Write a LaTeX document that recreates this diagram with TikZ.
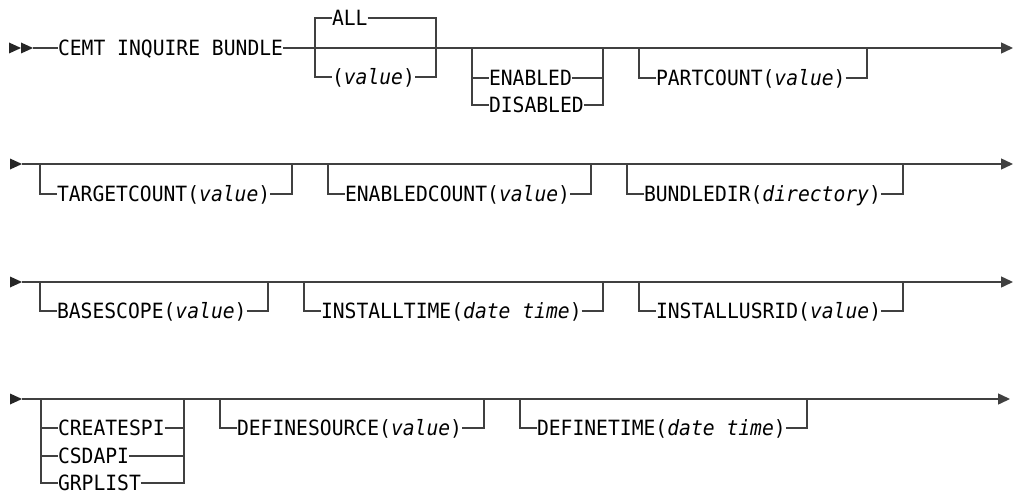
\documentclass[tikz,border=0pt]{standalone}
\usepackage{fontspec}
\setmonofont[FakeStretch=0.937]{DejaVu Sans Mono}
\usetikzlibrary{arrows.meta}
\tikzset{
  rail/.style={draw=black!75, line width=1.4pt, line join=miter, line cap=butt},
  lbl/.style={anchor=west, inner sep=0pt, outer sep=0pt, text height=15.3pt, text depth=0pt,
              font=\ttfamily\fontsize{21}{25}\selectfont, text=black},
  endarrow/.style={-{Triangle[length=12pt,width=11pt]}},
  headmark/.style={fill=black!85}
}
\newcommand\RailOpt[6]{%
  \coordinate (#1L) at (#2,#4);
  \coordinate (#1R) at (#3,#4);
  \node[lbl] (#1) at (#2+17,#5) {#6};
  \draw[rail] (#1L) |- (#1.west);
  \draw[rail] (#1.east) -| (#1R);
}
\newcommand\RowStart[2]{% name, y
  \coordinate (#1) at (22,#2);
  \fill[headmark] (10,#2-5.5) -- (22,#2) -- (10,#2+5.5) -- cycle;
}
\begin{document}
\begin{tikzpicture}[x=1pt,y=-1pt]
\useasboundingbox (0,0) rectangle (1016,495);

% ---------------- Row 1 ----------------
\coordinate (r1s) at (33,48);
\fill[headmark] (9,42.5) -- (21,48) -- (9,53.5) -- cycle;
\fill[headmark] (21,42.5) -- (33,48) -- (21,53.5) -- cycle;
\node[lbl] (cemt) at (58,48) {CEMT INQUIRE BUNDLE};
\coordinate (r1e) at (1013,48);
\draw[rail] (r1s) -- (cemt.west);
\draw[rail,endarrow] (cemt.east) -- (r1e);

\coordinate (allL) at (315,48);
\coordinate (allR) at (436,48);
\node[lbl] (all) at (332,18) {ALL};
\node[lbl] (val) at (332,77) {(\textit{value})};
\draw[rail] (all.west) -| (allL) |- (val.west);
\draw[rail] (all.east) -| (allR) |- (val.east);

\coordinate (enL) at (472,48);
\coordinate (enR) at (603,48);
\node[lbl] (en) at (489,78) {ENABLED};
\node[lbl] (dis) at (489,105) {DISABLED};
\draw[rail] (enL) |- (en.west);
\draw[rail] (enL) |- (dis.west);
\draw[rail] (en.east) -| (enR);
\draw[rail] (dis.east) -| (enR);

\RailOpt{part}{639}{867}{48}{78}{PARTCOUNT(\textit{value})}

% ---------------- Row 2 ----------------
\RowStart{r2s}{164}
\coordinate (r2e) at (1013,164);
\draw[rail,endarrow] (r2s) -- (r2e);
\RailOpt{tgt}{40}{292}{164}{194}{TARGETCOUNT(\textit{value})}
\RailOpt{enc}{328}{591}{164}{194}{ENABLEDCOUNT(\textit{value})}
\RailOpt{bdir}{627}{903}{164}{194}{BUNDLEDIR(\textit{directory})}

% ---------------- Row 3 ----------------
\RowStart{r3s}{282}
\coordinate (r3e) at (1013,282);
\draw[rail,endarrow] (r3s) -- (r3e);
\RailOpt{bsc}{40}{268}{282}{311}{BASESCOPE(\textit{value})}
\RailOpt{itm}{304}{603}{282}{311}{INSTALLTIME(\textit{date time})}
\RailOpt{iusr}{639}{903}{282}{311}{INSTALLUSRID(\textit{value})}

% ---------------- Row 4 ----------------
\RowStart{r4s}{399}
\coordinate (r4e) at (1010,399);
\draw[rail,endarrow] (r4s) -- (r4e);
\coordinate (crL) at (41,399);
\coordinate (crR) at (184,399);
\node[lbl] (cspi) at (58,428) {CREATESPI};
\node[lbl] (csd) at (58,456) {CSDAPI};
\node[lbl] (grp) at (58,483) {GRPLIST};
\draw[rail] (crL) |- (cspi.west);
\draw[rail] (crL) |- (csd.west);
\draw[rail] (crL) |- (grp.west);
\draw[rail] (cspi.east) -| (crR);
\draw[rail] (csd.east) -| (crR);
\draw[rail] (grp.east) -| (crR);
\RailOpt{dsrc}{220}{484}{399}{428}{DEFINESOURCE(\textit{value})}
\RailOpt{dtim}{520}{807}{399}{428}{DEFINETIME(\textit{date time})}
\end{tikzpicture}
\end{document}
